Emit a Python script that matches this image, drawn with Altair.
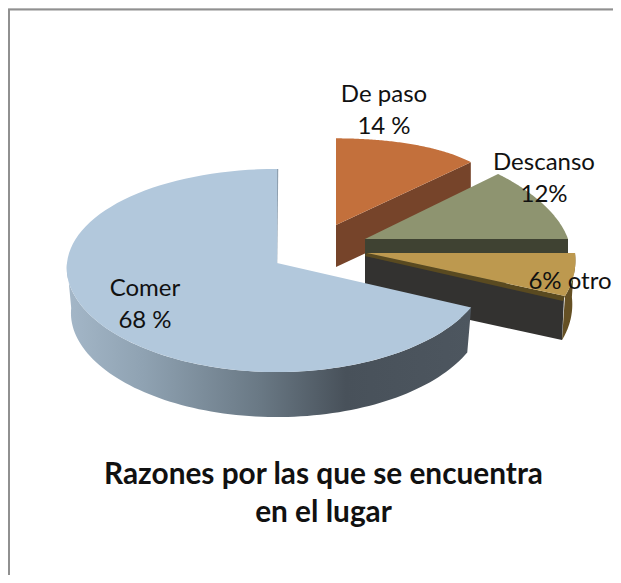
import math
import altair as alt

# ---- data ----
CATEGORIES = ["De paso", "Descanso", "otro", "Comer"]
VALUES = [14, 12, 6, 68]
LABEL_LINES = ["De paso", "14 %", "Descanso", "12%", "6% otro", "Comer", "68 %"]
TITLE_LINES = ["Razones por las que se encuentra", "en el lugar"]

# ---- layout (page pixels) ----
OX, OY = 8, 8
W, H = 605, 567
LABEL_POS = [(384, 95), (384, 127), (544, 163), (544, 195), (570, 282), (145, 289), (145, 321)]
GEOM = {
    "De paso":  dict(ax=336, ay=225, rx=175, ry=130, kx=0.0,   ky=0.5,   rot=0.0,  depth=42),
    "Descanso": dict(ax=365, ay=239, rx=203, ry=95,  kx=0.164, ky=0.0,   rot=-3.6, depth=44),
    "otro":     dict(ax=367, ay=253, rx=208, ry=117, kx=0.063, ky=0.0,   rot=-3.6, depth=44),
    "Comer":    dict(ax=277, ay=263, rx=210, ry=101, kx=0.05,  ky=0.074, rot=0.0,  depth=45),
}
TOP = {"De paso": "#c3703c", "Descanso": "#8e9470", "otro": "#bd994f", "Comer": "#b2c8dc"}
RADIAL = {"De paso": "#76442a", "Descanso": "#3f4232", "otro": "#333230", "Comer": "#4b555f"}
FRAME = "#909090"

total = sum(VALUES)
spans = {}
c = 0.0
for n, v in zip(CATEGORIES, VALUES):
    spans[n] = (c, c + 360.0 * v / total)
    c = spans[n][1]


def pt(name, th, shrink=1.0, drop=0.0):
    g = GEOM[name]
    a = math.radians(th + g["rot"])
    X, Y = math.sin(a), math.cos(a)
    return [g["ax"] + shrink * g["rx"] * X / (1 + g["kx"] * Y),
            g["ay"] - g["ry"] * Y / (1 + g["ky"] * Y) + drop]


def arc(name, t0, t1, shrink=1.0, drop=0.0, n=90):
    return [pt(name, t0 + (t1 - t0) * i / n, shrink, drop) for i in range(n + 1)]


def poly(points, fill):
    pts = [[p[0], p[1]] for p in points]
    pts.append(pts[0])
    return {"type": "Feature", "geometry": {"type": "Polygon", "coordinates": [pts]},
            "properties": {"fill": fill}}


def top_face(name):
    g = GEOM[name]
    t0, t1 = spans[name]
    return poly([[g["ax"], g["ay"]]] + arc(name, t0, t1), TOP[name])


def radial_side(name, th):
    g = GEOM[name]
    e = pt(name, th)
    d = g["depth"]
    return poly([[g["ax"], g["ay"]], e, [e[0], e[1] + d], [g["ax"], g["ay"] + d]], RADIAL[name])


t_paso = spans["De paso"]
t_desc = spans["Descanso"]
t_otro = spans["otro"]
t_com = spans["Comer"]

back = [
    radial_side("De paso", t_paso[1]),
    top_face("De paso"),
    radial_side("Descanso", t_desc[1]),
    top_face("Descanso"),
]
d_o = GEOM["otro"]["depth"]
otro_end = pt("otro", t_otro[1])
otro_ax, otro_ay = GEOM["otro"]["ax"], GEOM["otro"]["ay"]
back += [
    poly(arc("otro", t_otro[0], t_otro[1]) + arc("otro", t_otro[1], t_otro[0], 0.985, d_o), "#655024"),
    poly([[otro_ax - 2, otro_ay + 3], [otro_end[0] - 1, otro_end[1] + 2],
          [otro_end[0] - 3, otro_end[1] + d_o], [otro_ax - 2, otro_ay + d_o]], RADIAL["otro"]),
    poly([[otro_ax, otro_ay], otro_end, [otro_end[0] - 2, otro_end[1] + 5], [otro_ax - 2, otro_ay + 3]], "#5a4a20"),
    top_face("otro"),
]

d_c = GEOM["Comer"]["depth"]
comer_side = poly(arc("Comer", t_com[0], 270) + arc("Comer", 270, t_com[0], 0.98, d_c), "none")
comer_top = top_face("Comer")
frame = [
    {"type": "Feature",
     "geometry": {"type": "LineString", "coordinates": [[9, OY + H + 5], [9, 9.5], [OX + W + 5, 9.5]]},
     "properties": {}},
]
sliver = [
    {"type": "Feature", "geometry": {"type": "LineString", "coordinates": [[277.5, 169], [276.5, 263]]},
     "properties": {}},
]

proj = alt.Projection(type="identity", scale=1, translate=[-OX, -OY])


def shapes(feats):
    return (alt.Chart(alt.Data(values=feats)).mark_geoshape(stroke=None)
            .encode(color=alt.Color("properties.fill:N", scale=None, legend=None)).project(**proj.to_dict()))


grad = alt.Gradient(
    gradient="linear", x1=0, x2=1, y1=0, y2=0,
    stops=[
        alt.GradientStop(color="#a4b7c8", offset=0),
        alt.GradientStop(color="#8fa2b2", offset=0.19),
        alt.GradientStop(color="#697884", offset=0.48),
        alt.GradientStop(color="#48515a", offset=0.69),
        alt.GradientStop(color="#4d565f", offset=1),
    ],
)
side_layer = (alt.Chart(alt.Data(values=[comer_side])).mark_geoshape(fill=grad, stroke=None)
              .project(**proj.to_dict()))
frame_layer = (alt.Chart(alt.Data(values=frame)).mark_geoshape(filled=False, stroke=FRAME, strokeWidth=2)
               .project(**proj.to_dict()))
sliver_layer = (alt.Chart(alt.Data(values=sliver)).mark_geoshape(filled=False, stroke="#8ea0b0", strokeWidth=1.5)
                .project(**proj.to_dict()))

label_rows = [{"t": t, "px": p[0] - OX, "py": p[1] - OY} for t, p in zip(LABEL_LINES, LABEL_POS)]
labels = (alt.Chart(alt.Data(values=label_rows))
          .mark_text(font="Lato", fontSize=24, color="#111111", align="center", baseline="middle")
          .encode(x=alt.X("px:Q", scale=None, axis=None), y=alt.Y("py:Q", scale=None, axis=None),
                  text="t:N"))

chart = (
    alt.layer(frame_layer, shapes(back), side_layer, sliver_layer, shapes([comer_top]), labels)
    .properties(
        width=W, height=H,
        padding=0,
        autosize=alt.AutoSizeParams(type="none"),
        title=alt.TitleParams(text=TITLE_LINES, orient="bottom", anchor="middle", offset=-115,
                              font="Lato", fontSize=29.8, fontWeight="bold", color="#111111",
                              lineHeight=38, dx=13, baseline="top"),
    )
    .configure_view(stroke=None)
    .configure(background="white")
)
chart.save("out.html", embed_options={"renderer": "svg", "actions": False})
